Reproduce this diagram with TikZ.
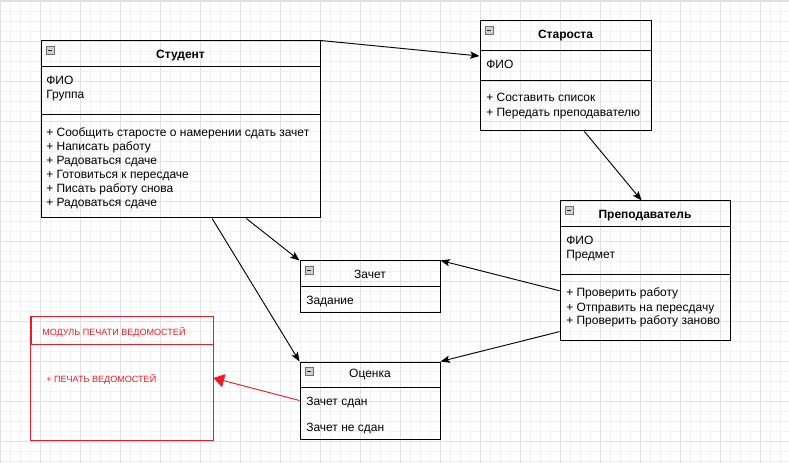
\documentclass[tikz,border=0pt]{standalone}
\usepackage{fontspec}
\setmainfont{Liberation Sans}
\usetikzlibrary{arrows.meta,calc,fit}
\definecolor{gridminor}{HTML}{F2F2F2}
\definecolor{gridmajor}{HTML}{E0E0E0}
\definecolor{umlred}{HTML}{EC1C24}
\definecolor{iconfill}{HTML}{D0D0D0}
\definecolor{iconedge}{HTML}{6E6E6E}
\begin{document}
\begin{tikzpicture}[x=0.75pt,y=-0.75pt,
  classbox/.style={draw=black,line width=0.75pt,inner sep=0pt},
  redbox/.style={draw=umlred,line width=0.7pt,inner sep=0pt},
  sepline/.style={draw=black,line width=0.75pt},
  txt/.style={font=\fontsize{9pt}{10pt}\selectfont,inner sep=0pt,anchor=base west},
  ttl/.style={font=\fontsize{9pt}{10pt}\selectfont,inner sep=0pt,anchor=base},
  bttl/.style={font=\fontsize{9pt}{10pt}\selectfont\bfseries,inner sep=0pt,anchor=base},
  redtxt/.style={font=\fontsize{6.8pt}{8pt}\selectfont,text=umlred,inner sep=0pt,anchor=base west},
  arr/.style={draw=black,line width=0.7pt,-{Stealth[length=7pt,width=5.5pt,inset=1.5pt]}},
  redarr/.style={draw=umlred,line width=0.7pt,-{Triangle[length=8pt,width=10pt]}}
]
% canvas and grid
\useasboundingbox (0,0) rectangle (789,463);
\fill[white] (0,0) rectangle (789,463);
\foreach \x in {0,10,...,780} \draw[gridminor,line width=0.5pt] (\x,0) -- (\x,463);
\foreach \y in {1,11,...,461} \draw[gridminor,line width=0.5pt] (0,\y) -- (789,\y);
\foreach \x in {0,40,...,780} \draw[gridmajor,line width=0.6pt] (\x,0) -- (\x,463);
\foreach \y in {1,41,...,441} \draw[gridmajor,line width=0.6pt] (0,\y) -- (789,\y);
\fill[gridmajor] (0,0) rectangle (789,1.5);

% collapse icon in the corner of a class header
\newcommand{\minusicon}[2]{%
  \draw[iconedge,fill=iconfill,line width=0.5pt] (#1,#2) rectangle ++(8,8);
  \draw[black!85,line width=0.7pt] (#1+2,#2+4) -- ++(4,0);}

% ---------- Студент ----------
\node[classbox,fit={(41,41)(320,218)}] (student) {};
\draw[sepline] (41,67) -- (320,67);
\draw[sepline] (41,115) -- (320,115);
\minusicon{46}{46}
\node[bttl] (studentT) at (180.5,59) {Студент};
\node[txt] (studentA1) at (46,85) {ФИО};
\node[txt] (studentA2) at (46,99) {Группа};
\node[txt] (studentM1) at (46,137) {+ Сообщить старосте о намерении сдать зачет};
\node[txt] (studentM2) at (46,151) {+ Написать работу};
\node[txt] (studentM3) at (46,165) {+ Радоваться сдаче};
\node[txt] (studentM4) at (46,179) {+ Готовиться к пересдаче};
\node[txt] (studentM5) at (46,193) {+ Писать работу снова};
\node[txt] (studentM6) at (46,207) {+ Радоваться сдаче};

% ---------- Староста ----------
\node[classbox,fit={(480,21)(651,131)}] (starosta) {};
\draw[sepline] (480,51) -- (651,51);
\draw[sepline] (480,81) -- (651,81);
\minusicon{485}{26}
\node[bttl] (starostaT) at (565.5,39) {Староста};
\node[txt] (starostaA1) at (486,69) {ФИО};
\node[txt] (starostaM1) at (486,102) {+ Составить список};
\node[txt] (starostaM2) at (486,116.5) {+ Передать преподавателю};

% ---------- Преподаватель ----------
\node[classbox,fit={(560,201)(730,341)}] (prep) {};
\draw[sepline] (560,227) -- (730,227);
\draw[sepline] (560,275) -- (730,275);
\minusicon{565}{206}
\node[bttl] (prepT) at (645,219) {Преподаватель};
\node[txt] (prepA1) at (566,245) {ФИО};
\node[txt] (prepA2) at (566,259) {Предмет};
\node[txt] (prepM1) at (566,297) {+ Проверить работу};
\node[txt] (prepM2) at (566,311) {+ Отправить на пересдачу};
\node[txt] (prepM3) at (566,325) {+ Проверить работу заново};

% ---------- Зачет ----------
\node[classbox,fit={(300,261)(440,313)}] (zachet) {};
\draw[sepline] (300,287) -- (440,287);
\minusicon{305}{266}
\node[ttl] (zachetT) at (370,279) {Зачет};
\node[txt] (zachetA1) at (306,305) {Задание};

% ---------- Оценка ----------
\node[classbox,fit={(300,362)(440,439)}] (ocenka) {};
\draw[sepline] (300,387) -- (440,387);
\minusicon{305}{367}
\node[ttl] (ocenkaT) at (370,378) {Оценка};
\node[txt] (ocenkaA1) at (306,405) {Зачет сдан};
\node[txt] (ocenkaA2) at (306,431) {Зачет не сдан};

% ---------- Модуль печати ведомостей ----------
\node[redbox,fit={(30,316)(213,440)}] (module) {};
\draw[umlred,line width=0.7pt] (30,344) -- (213,344);
\draw[umlred,line width=1.4pt] (31,316) -- (31,344);
\node[redtxt] (moduleT) at (42,335) {МОДУЛЬ ПЕЧАТИ ВЕДОМОСТЕЙ};
\node[redtxt] (moduleM1) at (46,382.5) {+ ПЕЧАТЬ ВЕДОМОСТЕЙ};

% ---------- связи ----------
\draw[arr] (student.north east) -- ($(starosta.north west)!0.32!(starosta.south west)$);
\draw[arr] ($(starosta.south west)!0.61!(starosta.south east)$) -- ($(prep.north west)!0.48!(prep.north east)$);
\draw[arr] ($(student.south west)!0.735!(student.south east)$) -- (zachet.north west);
\draw[arr] ($(student.south west)!0.613!(student.south east)$) -- (ocenka.north west);
\draw[arr] ($(prep.north west)!0.64!(prep.south west)$) -- (zachet.north east);
\draw[arr] ($(prep.north west)!0.93!(prep.south west)$) -- (ocenka.north east);
\draw[redarr] (ocenka.west) -- (module.east);
\end{tikzpicture}
\end{document}
